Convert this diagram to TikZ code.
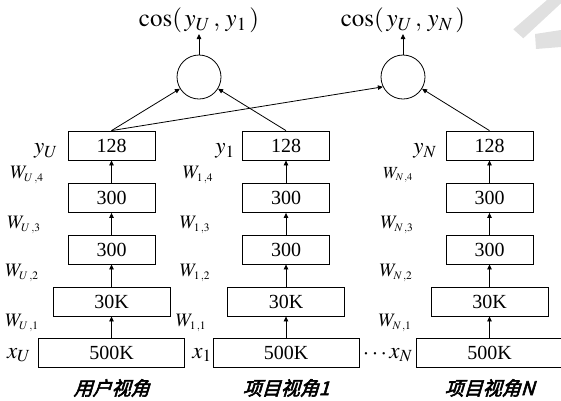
\documentclass[tikz,border=0pt]{standalone}
\usepackage{mathptmx}
\usepackage{fontspec}
\setmainfont{Liberation Serif}
\newfontfamily\cjkbi[FakeSlant=0.3,FakeBold=3]{Noto Sans CJK SC}
\usetikzlibrary{arrows.meta}
\newcommand\Wsub[2]{\(W_{\scriptscriptstyle #1\,,#2}\)}
\begin{document}
\begin{tikzpicture}[x=1pt,y=-1pt,
  box/.style={draw,line width=0.8pt,minimum height=29pt,inner sep=0pt,font=\fontsize{20}{20}\selectfont},
  arr/.style={line width=0.8pt,-{Triangle[length=5pt,width=4.5pt]}},
  neuron/.style={circle,draw,line width=0.8pt,minimum size=44pt,inner sep=0pt},
  lab/.style={font=\fontsize{25}{25}\selectfont,inner sep=1pt},
  ylab/.style={font=\fontsize{23}{23}\selectfont,inner sep=0pt},
  wlab/.style={font=\fontsize{19}{19}\selectfont,inner sep=0pt},
  view/.style={font=\fontsize{19}{19}\cjkbi,inner sep=0pt},
  wm/.style={fill=black!12,draw=none}
  ]
\useasboundingbox (0,0) rectangle (561,400);
% watermark
\fill[wm] (513.3,29.3) -- (523.3,38.3) -- (561,3.3) -- (561,0) -- (547,0) -- cycle;
\fill[wm] (535,34) -- (561,30) -- (561,47) -- (536,49) -- cycle;
% columns
\foreach \c/\x in {u/111.5,a/286,n/489.5}{
  \node[box,minimum width=87pt]  (\c5) at (\x,145.5) {128};
  \node[box,minimum width=87pt]  (\c4) at (\x,198) {300};
  \node[box,minimum width=87pt]  (\c3) at (\x,249.5) {300};
  \node[box,minimum width=117pt] (\c2) at (\x,301.5) {30K};
  \node[box,minimum width=146pt] (\c1) at (\x,352.5) {500K};
  \draw[arr] (\c1) -- (\c2);
  \draw[arr] (\c2) -- (\c3);
  \draw[arr] (\c3) -- (\c4);
  \draw[arr] (\c4) -- (\c5);
}
% cosine nodes
\node[neuron] (c1) at (199,77) {};
\node[neuron] (c2) at (403,77) {};
\node[lab,anchor=south] (t1) at (199,34) {\(\cos(\,y_{U}\,,\,y_{1}\,)\)};
\node[lab,anchor=south] (t2) at (403,34) {\(\cos(\,y_{U}\,,\,y_{N}\,)\)};
\draw[arr] (c1) -- (t1);
\draw[arr] (c2) -- (t2);
\draw[arr] (u5.north) -- (c1);
\draw[arr] (a5.north) -- (c1);
\draw[arr] (u5.north) -- (c2.206);
\draw[arr] (n5.north) -- (c2);
% side labels: user
\node[ylab] (yu) at (46,151) {\(y_{U}\)};
\node[wlab] (wu4) at (27,175) {\Wsub{U}{4}};
\node[wlab] (wu3) at (24,225) {\Wsub{U}{3}};
\node[wlab] (wu2) at (22,273) {\Wsub{U}{2}};
\node[wlab] (wu1) at (22,323) {\Wsub{U}{1}};
\node[ylab] (xu) at (19,355) {\(x_{U}\)};
% item 1
\node[ylab] (ya) at (225,151) {\(y_{1}\)};
\node[wlab] (wa4) at (198,175) {\Wsub{1}{4}};
\node[wlab] (wa3) at (195,225) {\Wsub{1}{3}};
\node[wlab] (wa2) at (195,273) {\Wsub{1}{2}};
\node[wlab] (wa1) at (191,323) {\Wsub{1}{1}};
\node[ylab] (xa) at (202,355) {\(x_{1}\)};
% item N
\node[ylab] (yn) at (425,151) {\(y_{N}\)};
\node[wlab,font=\fontsize{17}{17}\selectfont] (wn4) at (398,175) {\Wsub{N}{4}};
\node[wlab] (wn3) at (397,225) {\Wsub{N}{3}};
\node[wlab] (wn2) at (396,273) {\Wsub{N}{2}};
\node[wlab] (wn1) at (395,323) {\Wsub{N}{1}};
\node[ylab] (xn) at (401,355) {\(x_{N}\)};
\node[ylab] (dots) at (375,354) {\(\cdots\)};
% view labels
\node[view] (v1) at (111.5,388) {用户视角};
\node[view] (v2) at (286,388) {项目视角1};
\node[view] (v3) at (489.5,388) {项目视角N};
\end{tikzpicture}
\end{document}
